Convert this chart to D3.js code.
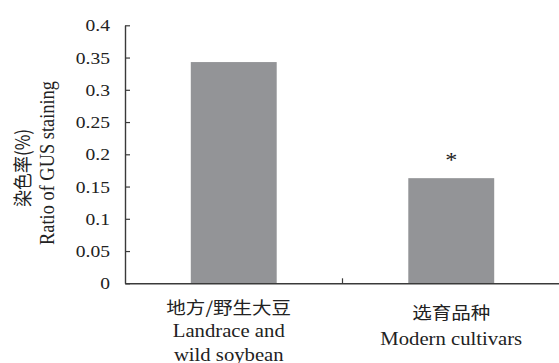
<!DOCTYPE html>
<html>
<head>
<meta charset="utf-8">
<script src="https://cdn.jsdelivr.net/npm/d3@7"></script>
<style>
  html, body { margin: 0; padding: 0; background: #fff; }
  svg { display: block; }
</style>
</head>
<body>
<svg id="chart" width="559" height="363"></svg>
<script>
// GUS staining ratio by germplasm group
const categories = ["landrace", "modern"];
const zhLabels = ["地方/野生大豆", "选育品种"];
const enLabels = [["Landrace and", "wild soybean"], ["Modern cultivars"]];
const values = [0.343, 0.163];
const marks = ["", "*"];
const yTicks = [0, 0.05, 0.1, 0.15, 0.2, 0.25, 0.3, 0.35, 0.4];
const yTickLabels = ["0", "0.05", "0.1", "0.15", "0.2", "0.25", "0.3", "0.35", "0.4"];

const svg = d3.select("#chart");
const plotLeft = 125, plotRight = 560, plotTop = 25.3, plotBottom = 283.3;
const axisColor = "#3a3a3a";
const textColor = "#222";
const barColor = "#939497";
const serif = '"Liberation Serif", "Times New Roman", serif';
const cjk = '"Noto Sans CJK SC", "Liberation Serif", serif';
const stretch = 1.15; // type is set slightly wide

const x = d3.scaleBand().domain(categories).range([plotLeft, plotRight]).padding(0);
const y = d3.scaleLinear().domain([0, 0.4]).range([plotBottom, plotTop]);
const barW = x.bandwidth() * 0.395;

// bars
svg.append("g").selectAll("rect")
  .data(categories)
  .join("rect")
  .attr("x", (d) => x(d) + (x.bandwidth() - barW) / 2)
  .attr("y", (d, i) => y(values[i]))
  .attr("width", barW)
  .attr("height", (d, i) => y(0) - y(values[i]))
  .attr("fill", barColor);

// significance marks
svg.append("g").selectAll("text")
  .data(categories)
  .join("text")
  .attr("transform", (d, i) =>
    `translate(${x(d) + x.bandwidth() / 2},${y(values[i]) - 11}) scale(${stretch},1)`)
  .attr("text-anchor", "middle")
  .attr("font-family", serif)
  .attr("font-size", 21)
  .attr("fill", textColor)
  .text((d, i) => marks[i]);

// y axis with inward ticks
const yAxis = d3.axisLeft(y)
  .tickValues(yTicks)
  .tickFormat((d, i) => yTickLabels[i])
  .tickSizeInner(-5)
  .tickSizeOuter(0)
  .tickPadding(15);
const gy = svg.append("g").attr("transform", `translate(${plotLeft},0)`).call(yAxis);
gy.attr("font-family", serif).attr("font-size", 17);
gy.select(".domain").attr("stroke", axisColor).attr("stroke-width", 1.4);
gy.selectAll(".tick line").attr("stroke", axisColor).attr("stroke-width", 1.2);
gy.selectAll(".tick text")
  .attr("x", 0)
  .attr("transform", `translate(-15,0) scale(${stretch},1)`)
  .attr("fill", textColor);

// x axis line with a tick between the categories
const xAxis = d3.axisBottom(x).tickSize(0).tickSizeOuter(0).tickFormat("");
const gx = svg.append("g").attr("transform", `translate(0,${plotBottom})`).call(xAxis);
gx.select(".domain").attr("stroke", axisColor).attr("stroke-width", 1.4);
gx.selectAll(".tick").remove();
gx.selectAll("line.sep")
  .data(categories.slice(1))
  .join("line")
  .attr("class", "sep")
  .attr("x1", (d) => x(d)).attr("x2", (d) => x(d))
  .attr("y1", 0).attr("y2", -5)
  .attr("stroke", axisColor).attr("stroke-width", 1.2);

// category labels
const labelShift = [-5, 0];
const zhBase = [314, 319];
const enBase = [337, 345];
const lineGap = 24;
const catG = svg.append("g").attr("fill", textColor).attr("text-anchor", "middle");
categories.forEach((c, i) => {
  const cx = x(c) + x.bandwidth() / 2 + labelShift[i];
  catG.append("text")
    .attr("transform", `translate(${cx},${zhBase[i]}) scale(${stretch},1)`)
    .attr("font-family", cjk)
    .attr("font-size", 17)
    .text(zhLabels[i]);
  enLabels[i].forEach((t, j) => {
    catG.append("text")
      .attr("transform", `translate(${cx},${enBase[i] + j * lineGap}) scale(${stretch},1)`)
      .attr("font-family", serif)
      .attr("font-size", 18)
      .text(t);
  });
});

// y axis title
const tG = svg.append("g").attr("fill", textColor).attr("text-anchor", "middle");
tG.append("text")
  .attr("transform", `translate(30,168) rotate(-90) scale(1,${stretch})`)
  .attr("font-family", cjk)
  .attr("font-size", 17)
  .text("染色率(%)");
tG.append("text")
  .attr("transform", `translate(54,163) rotate(-90) scale(1,${stretch})`)
  .attr("font-family", serif)
  .attr("font-size", 18.4)
  .text("Ratio of GUS staining");
</script>
</body>
</html>
